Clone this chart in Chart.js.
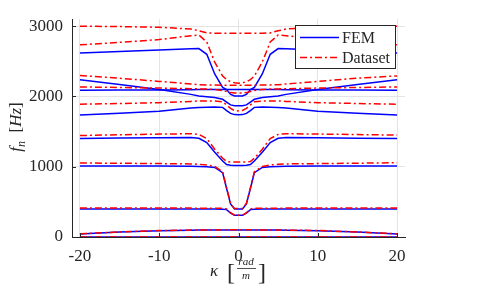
<!DOCTYPE html>
<html>
<head>
<meta charset="utf-8">
<script src="https://cdn.jsdelivr.net/npm/chart.js@4.4.1/dist/chart.umd.min.js"></script>
<style>
  html, body { margin: 0; padding: 0; background: #fff; }
  #wrap { width: 486px; height: 291px; }
</style>
</head>
<body>
<div id="wrap"><canvas id="freqChart" width="486" height="291"></canvas></div>
<script>
// wavenumber kappa [rad/m]
const kappa = [-20, -15, -10, -6, -5, -4, -3, -2, -1.5, -1, -0.5, 0, 0.5, 1, 1.5, 2, 3, 4, 5, 6, 10, 15, 20];

// natural frequencies [Hz]
const dataTop = [3000, 2995, 2985, 2960, 2935, 2905, 2900, 2900, 2900, 2900, 2900, 2900, 2900, 2900, 2900, 2900, 2900, 2905, 2935, 2960, 2988, 2997, 3000];
const dataA = [2735, 2770, 2810, 2865, 2875, 2775, 2490, 2290, 2240, 2210, 2195, 2190, 2195, 2210, 2240, 2290, 2490, 2775, 2875, 2865, 2810, 2770, 2735];
const femA = [2620, 2640, 2660, 2678, 2682, 2600, 2320, 2130, 2098, 2030, 2006, 2006, 2006, 2030, 2098, 2130, 2320, 2600, 2682, 2678, 2660, 2640, 2620];
const dataB = [2299, 2260, 2215, 2178, 2168, 2165, 2163, 2160, 2160, 2160, 2160, 2160, 2160, 2160, 2160, 2160, 2163, 2165, 2168, 2178, 2215, 2260, 2293];
const femB = [2238, 2170, 2100, 2030, 2006, 1995, 1985, 1960, 1920, 1880, 1867, 1867, 1867, 1880, 1920, 1960, 1985, 1995, 2006, 2030, 2100, 2170, 2238];
const dataC = [2136, 2128, 2120, 2110, 2108, 2105, 2100, 2085, 2070, 2055, 2050, 2050, 2050, 2055, 2070, 2085, 2100, 2105, 2108, 2110, 2120, 2128, 2136];
const femC = [2090, 2092, 2094, 2097, 2098, 2098, 2098, 2098, 2098, 2098, 2098, 2098, 2098, 2098, 2098, 2098, 2098, 2098, 2098, 2097, 2094, 2092, 2088];
const dataD = [1890, 1900, 1912, 1930, 1937, 1937, 1935, 1925, 1880, 1830, 1800, 1795, 1800, 1830, 1880, 1925, 1935, 1937, 1937, 1930, 1912, 1900, 1890];
const femD = [1736, 1760, 1790, 1835, 1843, 1848, 1850, 1845, 1800, 1760, 1742, 1740, 1742, 1760, 1800, 1845, 1850, 1848, 1843, 1835, 1790, 1760, 1736];
const dataE = [1444, 1455, 1465, 1470, 1460, 1400, 1250, 1120, 1075, 1068, 1067, 1067, 1067, 1068, 1075, 1120, 1250, 1400, 1460, 1470, 1465, 1458, 1450];
const femE = [1402, 1408, 1412, 1416, 1405, 1345, 1205, 1082, 1031, 1020, 1017, 1017, 1017, 1020, 1031, 1082, 1205, 1345, 1405, 1416, 1412, 1406, 1402];
const dataF = [1053, 1050, 1045, 1040, 1035, 1025, 1005, 930, 700, 480, 404, 404, 404, 480, 700, 930, 1005, 1025, 1035, 1040, 1045, 1050, 1058];
const femF = [1012, 1012, 1010, 1008, 1005, 1000, 990, 915, 690, 470, 400, 400, 400, 470, 690, 915, 990, 1000, 1005, 1008, 1010, 1012, 1012];
const dataG = [413, 412, 412, 411, 410, 410, 410, 408, 400, 345, 311, 311, 311, 345, 400, 408, 410, 410, 410, 411, 412, 412, 413];
const femG = [398, 398, 398, 398, 398, 398, 398, 396, 390, 340, 308, 308, 308, 340, 390, 396, 398, 398, 398, 398, 398, 398, 398];
const dataH = [45, 72, 92, 98, 100, 101, 101, 102, 102, 102, 102, 102, 102, 102, 102, 102, 101, 101, 100, 98, 92, 72, 45];
const femH = [42, 70, 90, 97, 99, 100, 100, 101, 101, 101, 101, 101, 101, 101, 101, 101, 100, 100, 99, 97, 90, 70, 42];
const dataZ = [0, 0, 0, 0, 0, 0, 0, 0, 0, 0, 0, 0, 0, 0, 0, 0, 0, 0, 0, 0, 0, 0, 0];
const femZ = [0, 0, 0, 0, 0, 0, 0, 0, 0, 0, 0, 0, 0, 0, 0, 0, 0, 0, 0, 0, 0, 0, 0];

const xTicks = [-20, -10, 0, 10, 20];
const yTicks = [0, 1000, 2000, 3000];

const femSeries = [femA, femB, femC, femD, femE, femF, femG, femH, femZ];
const dataSeries = [dataTop, dataA, dataB, dataC, dataD, dataE, dataF, dataG, dataH, dataZ];

const BLUE = '#0000ff';
const RED = '#ff0000';
const AXIS = '#262626';
const SERIF = '"Liberation Serif", "DejaVu Serif", serif';
const DASHDOT = [7, 3, 2, 3];

const toPoints = arr => arr.map((v, i) => ({ x: kappa[i], y: v }));

const datasets = [];
femSeries.forEach(s => datasets.push({
    label: 'FEM', data: toPoints(s), borderColor: BLUE, borderWidth: 1.5,
    pointRadius: 0, fill: false, tension: 0, order: 2
}));
dataSeries.forEach(s => datasets.push({
    label: 'Dataset', data: toPoints(s), borderColor: RED, borderWidth: 1.5,
    borderDash: DASHDOT, pointRadius: 0, fill: false, tension: 0, order: 1
}));

// inward tick marks + axis titles with sub/fraction
const decorPlugin = {
    id: 'decor',
    afterDraw(chart) {
        const { ctx, chartArea: a, scales: { x, y } } = chart;
        ctx.save();
        ctx.strokeStyle = AXIS; ctx.lineWidth = 1;
        xTicks.forEach(v => {
            const px = Math.round(x.getPixelForValue(v)) + 0.5;
            ctx.beginPath(); ctx.moveTo(px, a.bottom); ctx.lineTo(px, a.bottom - 4); ctx.stroke();
        });
        yTicks.forEach(v => {
            const py = Math.round(y.getPixelForValue(v)) + 0.5;
            ctx.beginPath(); ctx.moveTo(a.left, py); ctx.lineTo(a.left + 4, py); ctx.stroke();
        });

        ctx.fillStyle = AXIS;
        ctx.textBaseline = 'alphabetic';

        // y title: f_n [Hz]
        ctx.save();
        ctx.translate(21, 127);
        ctx.rotate(-Math.PI / 2);
        const parts = [
            { t: 'f', f: 'italic 17px ' + SERIF, dy: 0 },
            { t: 'n', f: 'italic 12px ' + SERIF, dy: 4 },
            { t: '  [', f: '17px ' + SERIF, dy: 0 },
            { t: 'Hz', f: 'italic 17px ' + SERIF, dy: 0 },
            { t: ']', f: '17px ' + SERIF, dy: 0 }
        ];
        let total = 0;
        parts.forEach(p => { ctx.font = p.f; p.w = ctx.measureText(p.t).width; total += p.w; });
        let cx = -total / 2;
        parts.forEach(p => { ctx.font = p.f; ctx.fillText(p.t, cx, p.dy); cx += p.w; });
        ctx.restore();

        // x title: kappa [rad/m]
        ctx.textAlign = 'center';
        ctx.font = 'italic 17px ' + SERIF;
        ctx.fillText('κ', 214, 276);
        ctx.font = '24px ' + SERIF;
        ctx.fillText('[', 231, 280);
        ctx.fillText(']', 262, 280);
        ctx.font = 'italic 11px ' + SERIF;
        ctx.fillText('rad', 246, 265);
        ctx.fillText('m', 246, 279);
        ctx.beginPath(); ctx.moveTo(237, 268.5); ctx.lineTo(256, 268.5); ctx.lineWidth = 0.8; ctx.stroke();
        ctx.restore();
    },
    afterDatasetsDraw(chart) {
        // legend box
        const ctx = chart.ctx;
        ctx.save();
        ctx.fillStyle = '#fff';
        ctx.fillRect(295.5, 25.5, 100, 43);
        ctx.strokeStyle = AXIS; ctx.lineWidth = 1;
        ctx.strokeRect(295.5, 25.5, 100, 43);
        ctx.lineWidth = 1.5;
        ctx.strokeStyle = BLUE;
        ctx.beginPath(); ctx.moveTo(300, 37.5); ctx.lineTo(339, 37.5); ctx.stroke();
        ctx.strokeStyle = RED; ctx.setLineDash(DASHDOT);
        ctx.beginPath(); ctx.moveTo(300, 57.5); ctx.lineTo(339, 57.5); ctx.stroke();
        ctx.setLineDash([]);
        ctx.fillStyle = AXIS;
        ctx.font = '16px ' + SERIF;
        ctx.textBaseline = 'alphabetic';
        ctx.fillText('FEM', 342, 43);
        ctx.fillText('Dataset', 342, 63);
        ctx.restore();
    }
};

new Chart(document.getElementById('freqChart'), {
    type: 'line',
    data: { datasets },
    options: {
        responsive: false,
        animation: false,
        layout: { padding: { left: 0, right: 81, top: 15, bottom: 0 } },
        plugins: { legend: { display: false }, tooltip: { enabled: false } },
        scales: {
            x: {
                type: 'linear', min: -21, max: 21,
                afterBuildTicks: s => { s.ticks = xTicks.map(v => ({ value: v })); },
                afterFit: s => { s.height = 54; },
                grid: { color: '#e4e4e4', drawTicks: false, lineWidth: 1 },
                border: { color: AXIS, width: 1 },
                ticks: { color: AXIS, padding: 9, maxRotation: 0, font: { family: SERIF, size: 17 }, callback: v => String(v) }
            },
            y: {
                type: 'linear', min: 0, max: 3100,
                afterBuildTicks: s => { s.ticks = yTicks.map(v => ({ value: v })); },
                afterFit: s => { s.width = 72; },
                grid: { color: '#e4e4e4', drawTicks: false, lineWidth: 1 },
                border: { color: AXIS, width: 1 },
                ticks: { color: AXIS, padding: 9, font: { family: SERIF, size: 17 }, callback: v => String(v) }
            }
        }
    },
    plugins: [decorPlugin]
});
</script>
</body>
</html>
